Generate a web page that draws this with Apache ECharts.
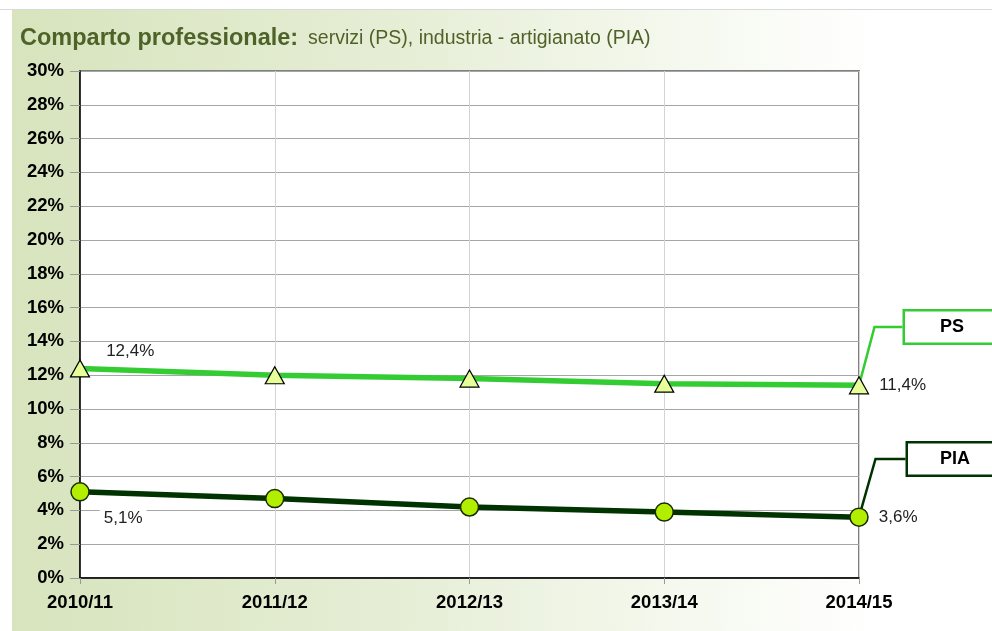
<!DOCTYPE html>
<html>
<head>
<meta charset="utf-8">
<script src="https://cdn.jsdelivr.net/npm/echarts@6/dist/echarts.min.js"></script>
<style>
	html, body { margin: 0; padding: 0; background: #fff; }
	.frame {
		position: absolute;
		left: 0; top: 0;
		width: 992px; height: 631px;
		overflow: hidden;
	}
	.top-rule {
		position: absolute;
		left: 0; top: 9px;
		width: 992px; height: 1px;
		background: #d9d9d9;
	}
	.panel {
		position: absolute;
		left: 12px; top: 10px;
		width: 980px; height: 621px;
		background: linear-gradient(to right, #d7e4bd 0%, #e6eed6 40%, #f6f9f0 70%, #ffffff 88%);
	}
	#chart {
		position: absolute;
		left: 0; top: 0;
		width: 992px; height: 631px;
	}
</style>
</head>
<body>
<div class="frame">
	<div class="top-rule"></div>
	<div class="panel"></div>
	<div id="chart"></div>
</div>
<script>
// data
const years = ['2010/11', '2011/12', '2012/13', '2013/14', '2014/15']
const psValues = [12.4, 12.0, 11.8, 11.5, 11.4]
const piaValues = [5.1, 4.7, 4.2, 3.9, 3.6]
const seriesNames = ['PS', 'PIA']

const FONT = 'Arial, "Liberation Sans", sans-serif'
const fmt = v => v.toFixed(1).replace('.', ',') + '%'
const last = years.length - 1

const valueLabel = {
	show: true,
	color: '#222',
	fontFamily: FONT,
	fontSize: 17,
	backgroundColor: '#fff',
	padding: [1, 4],
	formatter: p => fmt(p.value)
}

// only first and last points carry a value label
const withLabels = (values, firstOffset) => values.map((v, i) => {
	if (i === 0) return { value: v, label: Object.assign({}, valueLabel, { position: 'right', distance: 8, offset: firstOffset }) }
	if (i === last) return { value: v, label: Object.assign({}, valueLabel, { position: 'right', distance: 6 }) }
	return v
})

// series used only to hang the name tag off the last point
const tagData = values => values.map((v, i) => (i === last ? v : '-'))

const tagLabel = (color, name) => ({
	show: true,
	formatter: '{t|' + name + '}',
	backgroundColor: '#fff',
	borderColor: color,
	borderWidth: 2.5,
	padding: 0,
	rich: {
		t: {
			color: '#000',
			fontFamily: FONT,
			fontWeight: 'bold',
			fontSize: 18,
			width: 94,
			height: 31,
			lineHeight: 31,
			align: 'center'
		}
	}
})

const chart = echarts.init(document.getElementById('chart'), null, { renderer: 'canvas' })

const option = {
	backgroundColor: 'transparent',
	animation: false,
	title: {
		left: 15,
		top: 22,
		text: '{b|Comparto professionale:}  {n|servizi (PS), industria - artigianato (PIA)}',
		textStyle: {
			rich: {
				b: { fontFamily: FONT, fontSize: 23.5, fontWeight: 'bold', color: '#4f6228' },
				n: { fontFamily: FONT, fontSize: 19.5, fontWeight: 'normal', color: '#4f6228' }
			}
		}
	},
	grid: {
		left: 80,
		right: 133,
		top: 71,
		bottom: 53,
		show: true,
		backgroundColor: '#fff',
		borderColor: '#808080',
		borderWidth: 2
	},
	xAxis: {
		type: 'category',
		data: years,
		boundaryGap: false,
		axisLine: { lineStyle: { color: '#000', width: 1.5 } },
		axisTick: { show: true, length: 6, lineStyle: { color: '#999' } },
		axisLabel: {
			color: '#000',
			fontFamily: FONT,
			fontWeight: 'bold',
			fontSize: 18.5,
			margin: 15
		},
		splitLine: { show: true, lineStyle: { color: '#d4d4d4', width: 1 } }
	},
	yAxis: {
		type: 'value',
		min: 0,
		max: 30,
		interval: 2,
		axisLine: { show: true, lineStyle: { color: '#000', width: 1.5 } },
		axisTick: { show: true, length: 10, lineStyle: { color: '#999' } },
		axisLabel: {
			color: '#000',
			fontFamily: FONT,
			fontWeight: 'bold',
			fontSize: 18.5,
			margin: 16,
			formatter: '{value}%'
		},
		splitLine: { show: true, lineStyle: { color: '#a6a6a6', width: 1 } }
	},
	series: [
		{
			name: seriesNames[0],
			type: 'line',
			data: withLabels(psValues, [4, -17]),
			symbol: 'triangle',
			symbolSize: [19, 17],
			lineStyle: { color: '#33cc33', width: 5.5 },
			itemStyle: { color: '#e6ff99', borderColor: '#000', borderWidth: 1.2 },
			z: 3
		},
		{
			name: seriesNames[1],
			type: 'line',
			data: withLabels(piaValues, [2, 27]),
			symbol: 'circle',
			symbolSize: 18,
			lineStyle: { color: '#003300', width: 5.5 },
			itemStyle: { color: '#b2ee00', borderColor: '#1a2a00', borderWidth: 1.5 },
			z: 3
		},
		{
			name: seriesNames[0] + ' tag',
			type: 'line',
			data: tagData(psValues),
			symbol: 'circle',
			symbolSize: 1,
			lineStyle: { width: 0 },
			itemStyle: { color: 'rgba(0,0,0,0)' },
			label: tagLabel('#33cc33', seriesNames[0]),
			labelLine: { show: true, length2: 28, lineStyle: { color: '#33cc33', width: 2.5 } },
			labelLayout: () => ({ x: 905, y: 327, align: 'left', verticalAlign: 'middle' }),
			silent: true,
			z: 2
		},
		{
			name: seriesNames[1] + ' tag',
			type: 'line',
			data: tagData(piaValues),
			symbol: 'circle',
			symbolSize: 1,
			lineStyle: { width: 0 },
			itemStyle: { color: 'rgba(0,0,0,0)' },
			label: tagLabel('#003300', seriesNames[1]),
			labelLine: { show: true, length2: 30, lineStyle: { color: '#003300', width: 2.5 } },
			labelLayout: () => ({ x: 908, y: 459, align: 'left', verticalAlign: 'middle' }),
			silent: true,
			z: 2
		}
	]
}

chart.setOption(option)
</script>
</body>
</html>
